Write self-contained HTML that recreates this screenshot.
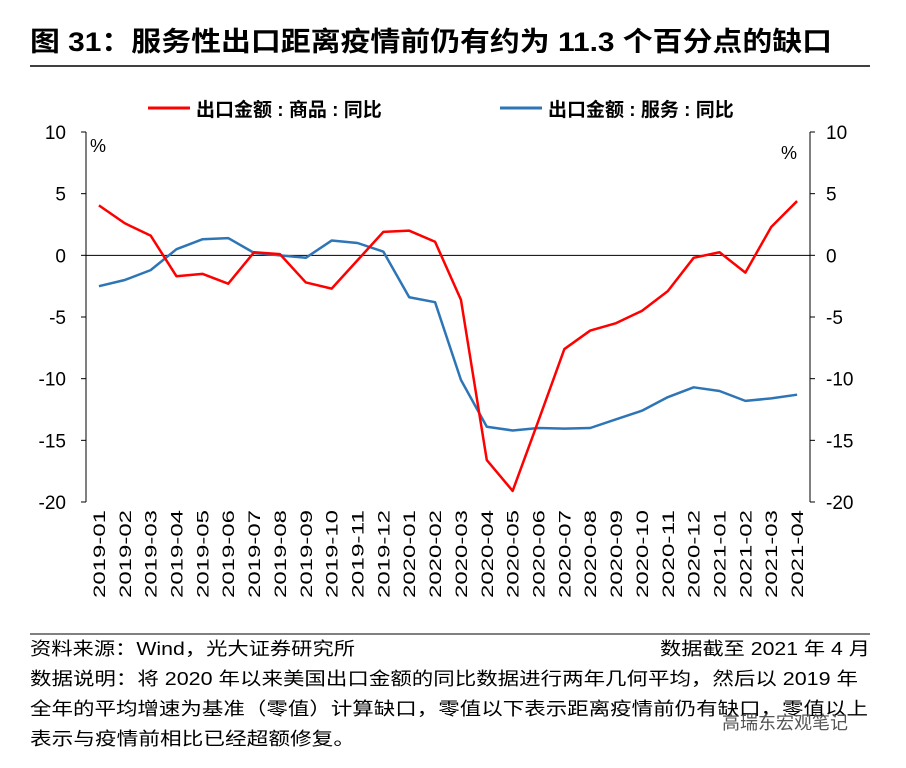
<!DOCTYPE html>
<html><head><meta charset="utf-8"><style>
body{margin:0;background:#fff;width:906px;height:763px;overflow:hidden;font-family:"Liberation Sans","Noto Sans CJK SC",sans-serif;}
</style></head><body>
<svg width="906" height="763" xmlns="http://www.w3.org/2000/svg" font-family="Liberation Sans, Noto Sans CJK SC, sans-serif">
<text x="30" y="51" font-size="27" font-weight="bold" fill="#000" textLength="802" lengthAdjust="spacingAndGlyphs">图 31：服务性出口距离疫情前仍有约为 11.3 个百分点的缺口</text>
<line x1="30" y1="66" x2="870" y2="66" stroke="#000" stroke-width="1.5"/>
<g>
<line x1="148" y1="108" x2="190" y2="108" stroke="#ff0000" stroke-width="3"/>
<text x="196" y="116" font-size="19" font-weight="bold">出口金额 : 商品 : 同比</text>
<line x1="500" y1="108" x2="542" y2="108" stroke="#2e75b6" stroke-width="3"/>
<text x="548" y="116" font-size="19" font-weight="bold">出口金额 : 服务 : 同比</text>
</g>
<text x="90" y="152" font-size="18">%</text>
<text x="781" y="159" font-size="18">%</text>
<g id="chart"></g>
<line x1="30" y1="634" x2="870" y2="634" stroke="#000" stroke-width="1"/>
<text x="30" y="655" font-size="18" textLength="325" lengthAdjust="spacingAndGlyphs">资料来源：Wind，光大证券研究所</text>
<text x="660" y="655" font-size="18" textLength="210" lengthAdjust="spacingAndGlyphs">数据截至 2021 年 4 月</text>
<text x="30" y="685" font-size="18" textLength="828" lengthAdjust="spacingAndGlyphs">数据说明：将 2020 年以来美国出口金额的同比数据进行两年几何平均，然后以 2019 年</text>
<text x="30" y="715" font-size="18" textLength="838" lengthAdjust="spacingAndGlyphs">全年的平均增速为基准（零值）计算缺口，零值以下表示距离疫情前仍有缺口，零值以上</text>
<text x="30" y="745" font-size="18" textLength="325" lengthAdjust="spacingAndGlyphs">表示与疫情前相比已经超额修复。</text>
<text x="722" y="729" font-size="18" fill="#555">高瑞东宏观笔记</text>
</svg>
<script>
const categories=["2019-01","2019-02","2019-03","2019-04","2019-05","2019-06","2019-07","2019-08","2019-09","2019-10","2019-11","2019-12","2020-01","2020-02","2020-03","2020-04","2020-05","2020-06","2020-07","2020-08","2020-09","2020-10","2020-11","2020-12","2021-01","2021-02","2021-03","2021-04"];
const goods=[4.05,2.6,1.6,-1.7,-1.5,-2.3,0.25,0.1,-2.2,-2.7,-0.4,1.9,2.0,1.1,-3.6,-16.6,-19.1,-13.4,-7.6,-6.1,-5.5,-4.5,-2.9,-0.2,0.25,-1.4,2.3,4.4];
const services=[-2.5,-2.0,-1.2,0.5,1.3,1.4,0.2,0,-0.2,1.2,1.0,0.3,-3.4,-3.8,-10.1,-13.9,-14.2,-14.0,-14.05,-14.0,-13.3,-12.6,-11.5,-10.7,-11.0,-11.8,-11.6,-11.3];
const yTicks=[10,5,0,-5,-10,-15,-20];
const NS="http://www.w3.org/2000/svg";
const g=document.getElementById('chart');
const L=86,R=810,T=132,B=502;
const y=v=>T+(10-v)*(B-T)/30;
const step=(R-L)/categories.length;
const x=i=>L+step*(i+0.5);
function mk(t,a,txt){const e=document.createElementNS(NS,t);for(const k in a)e.setAttribute(k,a[k]);if(txt!=null)e.textContent=txt;g.appendChild(e);return e;}
let e;
e=mk('line',{x1:L,y1:T,x2:L,y2:B,stroke:'#000'});


e=mk('line',{x1:R,y1:T,x2:R,y2:B,stroke:'#000'});


e=mk('line',{x1:L,y1:y(0),x2:R,y2:y(0),stroke:'#000'});


yTicks.forEach(v=>{
 mk('line',{x1:L-5,y1:y(v),x2:L,y2:y(v),stroke:'#000'});
 mk('line',{x1:R,y1:y(v),x2:R+5,y2:y(v),stroke:'#000'});
 e=mk('text',{x:66,y:y(v)+7,'font-size':19,'text-anchor':'end'},v);
 
 
 e=mk('text',{x:826,y:y(v)+7,'font-size':19},v);
 
 
});
categories.forEach((c,i)=>{
 const xx=x(i)+6;
 e=mk('text',{x:xx,y:510,'font-size':17,'text-anchor':'end',textLength:88,lengthAdjust:'spacingAndGlyphs',transform:`rotate(-90 ${xx} 510)`},c);
 
 
});
function line(data,color,name){
 e=mk('polyline',{points:data.map((v,i)=>x(i)+','+y(v)).join(' '),fill:'none',stroke:color,'stroke-width':2.5,'stroke-linejoin':'round'});
 
 
}
line(services,'#2e75b6','services-line');
line(goods,'#ff0000','goods-line');
</script>
</body></html>
